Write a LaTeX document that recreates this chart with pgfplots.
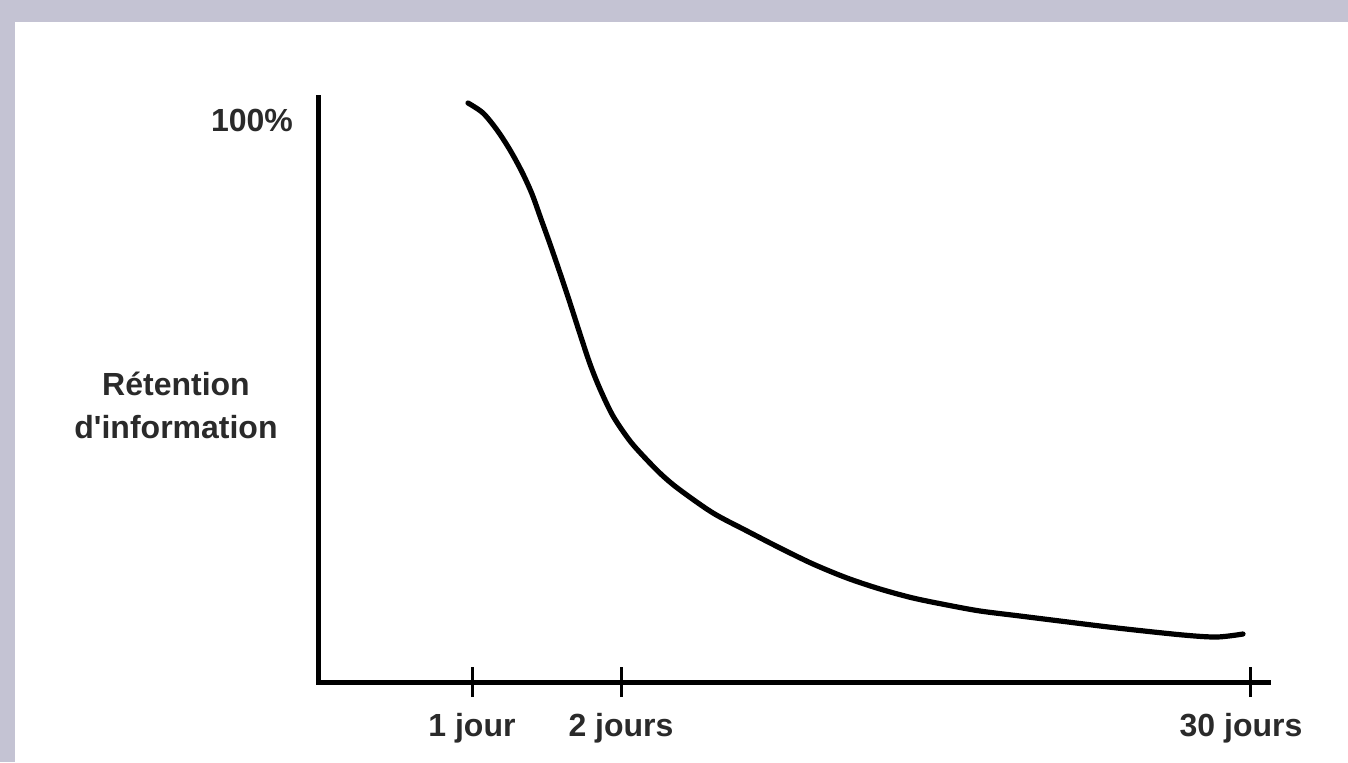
\documentclass[border=0pt]{standalone}
\usepackage{pgfplots}
\pgfplotsset{compat=1.18}
\usepackage{fontspec}
\setmainfont{Liberation Sans}
\definecolor{lav}{HTML}{C4C3D3}
\definecolor{txt}{HTML}{2A2A2A}
\begin{document}
\begin{tikzpicture}[x=1pt,y=1pt]
\fill[lav] (0,0) rectangle (674,381);
\fill[white] (7.5,0) rectangle (674,370);
\begin{axis}[
  at={(159pt,40pt)}, anchor=south west,
  scale only axis, width=475pt, height=292pt,
  xmin=318, xmax=1268, ymin=0, ymax=584,
  axis lines=left,
  axis line style={-, line width=2.5pt, black, line cap=rect},
  clip=false,
  xtick={472,621,1250},
  xticklabels={1 jour,2 jours,\hspace*{-9pt}30 jours},
  ytick={562},
  yticklabels={100\%},
  tick align=center,
  major tick length=15pt,
  x tick style={line width=1.5pt, black},
  y tick style={draw=none},
  every tick label/.append style={font=\bfseries\fontsize{16}{18}\selectfont, text=txt},
  xticklabel style={yshift=-4.5pt},
  yticklabel style={xshift=-1.5pt},
]
\addplot[black, line width=2.6pt, smooth, line cap=round] coordinates {
(468,579) (483,569) (497,552) (510,532) (522,510) (532,488) (541,463)
(550,438) (560,409) (570,379) (580,348) (590,318) (600,293) (613,266)
(630,241) (647,222) (663,206) (680,192) (713,169) (747,151) (780,134)
(813,118) (847,104) (880,93) (913,84) (947,77) (980,71) (1020,66)
(1060,61) (1117,54) (1183,47) (1217,45) (1243,48)
};
\node[font=\bfseries\fontsize{16}{21.5}\selectfont, text=txt, align=center] at (axis cs:176,277) {Rétention\\d\textquotesingle information};
\end{axis}
\end{tikzpicture}
\end{document}
